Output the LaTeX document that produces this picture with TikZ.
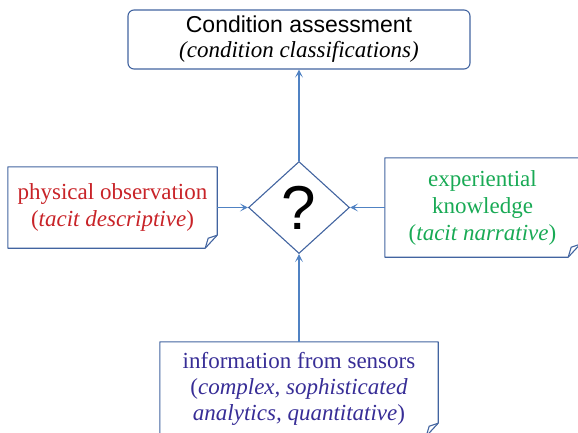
\documentclass[tikz,border=0pt]{standalone}
\usepackage{fontspec}
\setmainfont{Liberation Serif}
\newfontfamily\headfont{Liberation Sans}
\usetikzlibrary{arrows.meta,positioning,shapes.geometric}
\definecolor{frame}{RGB}{66,100,160}
\definecolor{arrowblue}{RGB}{80,130,195}
\definecolor{obsred}{RGB}{200,35,40}
\definecolor{expgreen}{RGB}{25,170,85}
\definecolor{sensblue}{RGB}{55,45,150}

% box outline with a folded lower right corner
\newcommand{\foldbox}[1]{%
  \draw[frame,line width=1.1pt,line join=round] (#1.north west) -- (#1.north east)
    -- ([yshift=13pt]#1.south east) -- ([xshift=-12pt]#1.south east) -- (#1.south west) -- cycle;
  \draw[frame,line width=1.1pt,line join=round] ([yshift=13pt]#1.south east)
    -- ([xshift=-9pt,yshift=10pt]#1.south east) -- ([xshift=-12pt]#1.south east);}

\begin{document}
\begin{tikzpicture}[x=1pt,y=1pt,
    txt/.style={font=\fontsize{23}{27}\selectfont,align=center,inner sep=0pt},
    feed/.style={draw=arrowblue,line width=1.1pt,-{Stealth[length=8pt,width=8pt,inset=4pt]}}]
  \useasboundingbox (0,0) rectangle (578,432);
  \node[diamond,draw=frame,line width=1.1pt,minimum width=101pt,minimum height=92pt,inner sep=0pt,
        font=\headfont\fontsize{62}{62}\selectfont] (query) at (299,224.5) {?};
  \node[txt,draw=frame,line width=1.1pt,rounded corners=6pt,minimum width=342pt,minimum height=59pt]
    (assess) at (299,392.5) {{\headfont Condition assessment}\\[-2pt]\textit{(condition classifications)}};
  \node[txt,text=obsred,minimum width=209pt,minimum height=81pt] (observe) at (112.5,224.5)
    {physical observation\\(\textit{tacit descriptive})};
  \node[txt,text=expgreen,minimum width=195pt,minimum height=99pt] (experience) at (482.5,224.5)
    {experiential\\knowledge\\(\textit{tacit narrative})};
  \node[txt,text=sensblue,minimum width=278pt,minimum height=94pt] (sensors) at (299,43)
    {information from sensors\\[-1pt](\textit{complex, sophisticated}\\[-1pt]\textit{analytics, quantitative})};
  \foldbox{observe}
  \foldbox{experience}
  \foldbox{sensors}
  \draw[feed] (query.north) -- (assess.south);
  \draw[feed] (observe.east) -- (query.west);
  \draw[feed] (experience.west) -- (query.east);
  \draw[feed] (sensors.north) -- (query.south);
\end{tikzpicture}
\end{document}
